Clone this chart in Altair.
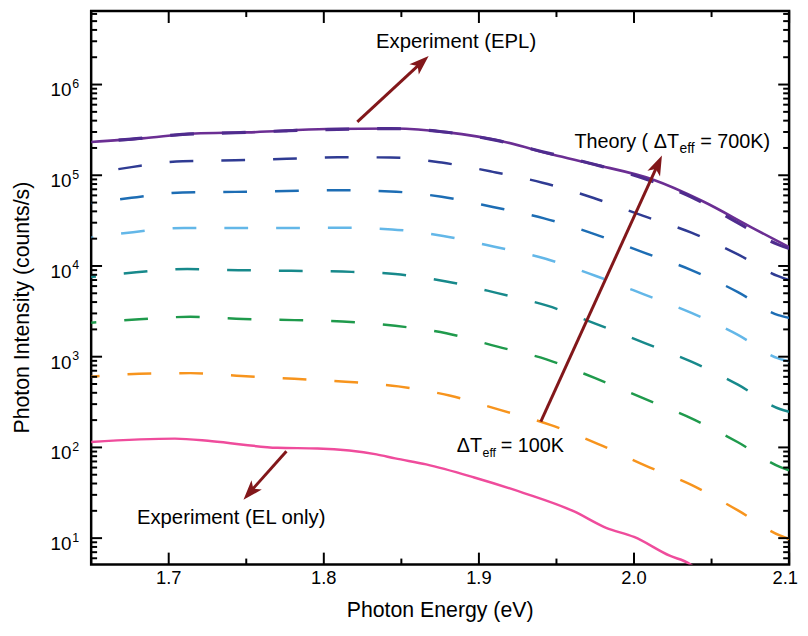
import altair as alt
import pandas as pd

W, H = 705, 559
FONT = "Liberation Sans, Arial, Helvetica, sans-serif"

# ---------------- axis tick values and labels ----------------
x_major = [1.7, 1.8, 1.9, 2.0, 2.1]
x_labels = ["1.7", "1.8", "1.9", "2.0", "2.1"]
x_minor = [1.65, 1.75, 1.85, 1.95, 2.05]
y_major = [1e1, 1e2, 1e3, 1e4, 1e5, 1e6]
y_exp = ["1", "2", "3", "4", "5", "6"]
y_minor = [6, 7, 8, 9,
           20, 30, 40, 50, 60, 70, 80, 90,
           200, 300, 400, 500, 600, 700, 800, 900,
           2e3, 3e3, 4e3, 5e3, 6e3, 7e3, 8e3, 9e3,
           2e4, 3e4, 4e4, 5e4, 6e4, 7e4, 8e4, 9e4,
           2e5, 3e5, 4e5, 5e5, 6e5, 7e5, 8e5, 9e5,
           2e6, 3e6, 4e6, 5e6, 6e6]

# ---------------- experiment (EPL), solid purple ----------------
e_epl = [1.650, 1.683, 1.717, 1.751, 1.802, 1.846, 1.880, 1.914, 1.948, 1.974, 2.012, 2.044, 2.076, 2.100]
i_epl = [2.33e5, 2.55e5, 2.89e5, 2.97e5, 3.23e5, 3.28e5, 2.97e5, 2.39e5, 1.68e5, 1.32e5, 8.97e4, 5.20e4, 2.65e4, 1.61e4]

# ---------------- experiment (EL only), solid pink ----------------
e_el = [1.650, 1.704, 1.728, 1.770, 1.796, 1.834, 1.846, 1.866, 1.897, 1.929, 1.961, 1.982, 2.000, 2.023, 2.036, 2.042]
i_el = [115, 125, 117, 99.1, 97.3, 83.8, 75.7, 65.0, 46.6, 31.4, 19.8, 13.0, 10.3, 6.40, 5.19, 4.3]

# ---------------- theory curves (dashed) ----------------
e_700 = [1.650, 1.676, 1.709, 1.743, 1.776, 1.809, 1.843, 1.876, 1.909, 1.941, 1.974, 2.006, 2.037, 2.067, 2.093, 2.100]
i_700 = [2.33e5, 2.50e5, 2.82e5, 2.94e5, 3.09e5, 3.21e5, 3.27e5, 3.02e5, 2.47e5, 1.82e5, 1.32e5, 9.27e4, 5.75e4, 2.99e4, 1.72e4, 1.56e4]
e_600 = [1.650, 1.676, 1.709, 1.743, 1.776, 1.809, 1.843, 1.876, 1.909, 1.941, 1.974, 2.006, 2.037, 2.067, 2.093, 2.100]
i_600 = [1.04e5, 1.23e5, 1.43e5, 1.46e5, 1.52e5, 1.58e5, 1.57e5, 1.38e5, 1.09e5, 8.28e4, 5.61e4, 3.56e4, 2.33e4, 1.34e4, 7.71e3, 6.97e3]
e_500 = [1.650, 1.676, 1.709, 1.743, 1.776, 1.810, 1.843, 1.876, 1.909, 1.942, 1.975, 2.006, 2.037, 2.067, 2.093, 2.100]
i_500 = [4.94e4, 5.64e4, 6.47e4, 6.56e4, 6.71e4, 6.85e4, 6.64e4, 5.79e4, 4.47e4, 3.35e4, 2.23e4, 1.41e4, 9.02e3, 5.15e3, 2.87e3, 2.68e3]
e_400 = [1.650, 1.677, 1.710, 1.744, 1.777, 1.811, 1.844, 1.877, 1.910, 1.943, 1.975, 2.006, 2.037, 2.067, 2.093, 2.100]
i_400 = [2.05e4, 2.36e4, 2.62e4, 2.62e4, 2.62e4, 2.64e4, 2.53e4, 2.14e4, 1.63e4, 1.20e4, 7.80e3, 4.90e3, 3.04e3, 1.74e3, 957, 887]
e_300 = [1.650, 1.679, 1.712, 1.745, 1.779, 1.812, 1.846, 1.879, 1.912, 1.944, 1.975, 2.007, 2.037, 2.067, 2.094, 2.100]
i_300 = [7.57e3, 8.51e3, 9.25e3, 8.99e3, 8.85e3, 8.67e3, 8.15e3, 6.76e3, 5.02e3, 3.65e3, 2.32e3, 1.41e3, 881, 492, 265, 247]
e_200 = [1.650, 1.681, 1.714, 1.748, 1.781, 1.812, 1.846, 1.879, 1.912, 1.944, 1.975, 2.007, 2.037, 2.067, 2.094, 2.100]
i_200 = [2.37e3, 2.59e3, 2.75e3, 2.61e3, 2.53e3, 2.44e3, 2.19e3, 1.81e3, 1.29e3, 929, 579, 342, 209, 114, 61.1, 56.0]
e_100 = [1.650, 1.681, 1.714, 1.747, 1.781, 1.814, 1.848, 1.881, 1.913, 1.946, 1.977, 2.007, 2.037, 2.067, 2.094, 2.100]
i_100 = [601, 649, 659, 612, 571, 530, 471, 373, 261, 177, 109, 63.5, 38.7, 20.2, 10.7, 9.77]

# (energies, intensities, colour, dash offset)
theory = [
    (e_100, i_100, "#f7941d", 15.5),
    (e_200, i_200, "#1f9a4c", 18.8),
    (e_300, i_300, "#17898b", 19.2),
    (e_400, i_400, "#63b7e8", 21.8),
    (e_500, i_500, "#1d6db4", 22.8),
    (e_600, i_600, "#2f3b93", 24.5),
]

# ---------------- arrows ----------------
arrow_name = ["EPL", "EPL", "Theory", "Theory", "EL", "EL"]
arrow_e = [1.8216, 1.862, 1.9399, 2.0148, 1.7759, 1.7532]
arrow_i = [3.88e5, 1.69e6, 193, 1.256e5, 90.9, 33.3]
head_e = [1.8676, 2.0180, 1.7482]
head_i = [2.07e6, 1.65e5, 26.5]
head_angle = [47.3, 24.5, 221.7]
ARROW = "#82171a"

XSC = alt.Scale(domain=[1.65, 2.1], nice=False, zero=False)
YSC = alt.Scale(type="log", domain=[5.12, 6.45e6], nice=False)


def X():
    return alt.X("energy:Q", scale=XSC, axis=None)


def Y():
    return alt.Y("intensity:Q", scale=YSC, axis=None)


layers = []

DASH = [24, 28.3]
for es, vs, col, off in theory:
    df = pd.DataFrame({"energy": es, "intensity": vs})
    layers.append(alt.Chart(df).mark_line(color=col, strokeWidth=2.5, strokeDash=DASH,
                                          strokeDashOffset=off, clip=True,
                                          interpolate="monotone").encode(x=X(), y=Y()))

# experiment EPL (solid) then 700 K theory dashed on top
layers.append(alt.Chart(pd.DataFrame({"energy": e_epl, "intensity": i_epl})).mark_line(
    color="#6b2e93", strokeWidth=2.6, clip=True, interpolate="monotone").encode(x=X(), y=Y()))
layers.append(alt.Chart(pd.DataFrame({"energy": e_700, "intensity": i_700})).mark_line(
    color="#4f2c8e", strokeWidth=3.2, strokeDash=DASH, strokeDashOffset=24.5, clip=True,
    interpolate="monotone").encode(x=X(), y=Y()))
# experiment EL only
layers.append(alt.Chart(pd.DataFrame({"energy": e_el, "intensity": i_el})).mark_line(
    color="#ef4c9c", strokeWidth=2.5, clip=True, interpolate="monotone").encode(x=X(), y=Y()))

# inward ticks on all four sides (positions from the scales, lengths in pixels)
xmaj = pd.DataFrame({"energy": x_major})
xmin = pd.DataFrame({"energy": x_minor})
ymaj = pd.DataFrame({"intensity": y_major})
ymin = pd.DataFrame({"intensity": y_minor})
TK = dict(color="black", strokeWidth=2)
for df, ln in ((xmaj, 12), (xmin, 6)):
    layers.append(alt.Chart(df).mark_rule(**TK).encode(x=X(), y=alt.value(H), y2=alt.value(H - ln)))
    layers.append(alt.Chart(df).mark_rule(**TK).encode(x=X(), y=alt.value(0), y2=alt.value(ln)))
for df, ln in ((ymaj, 11), (ymin, 6)):
    layers.append(alt.Chart(df).mark_rule(**TK).encode(y=Y(), x=alt.value(0), x2=alt.value(ln)))
    layers.append(alt.Chart(df).mark_rule(**TK).encode(y=Y(), x=alt.value(W), x2=alt.value(W - ln)))

# arrows
adf = pd.DataFrame({"name": arrow_name, "energy": arrow_e, "intensity": arrow_i})
layers.append(alt.Chart(adf).mark_line(color=ARROW, strokeWidth=3).encode(
    x=X(), y=Y(), detail="name:N"))
hdf = pd.DataFrame({"energy": head_e, "intensity": head_i, "angle": head_angle})
layers.append(alt.Chart(hdf).mark_point(shape="M0,0 L0.7,2 L0,1.5 L-0.7,2 Z", filled=True,
                                        size=400, color=ARROW, opacity=1).encode(
    x=X(), y=Y(), angle=alt.Angle("angle:Q", scale=None)))

# x tick labels (the last one kept inside the page edge)
xl = pd.DataFrame({"energy": x_major[:-1], "text": x_labels[:-1]})
layers.append(alt.Chart(xl).mark_text(align="center", baseline="alphabetic", font=FONT,
                                      fontSize=18.5, color="black").encode(
    x=X(), y=alt.value(H + 20), text="text:N"))
xl_last = pd.DataFrame({"energy": x_major[-1:], "text": x_labels[-1:]})
layers.append(alt.Chart(xl_last).mark_text(align="right", baseline="alphabetic", font=FONT,
                                           fontSize=18.5, dx=9, color="black").encode(
    x=X(), y=alt.value(H + 20), text="text:N"))

# y tick labels: "10" with a raised exponent
ydf = pd.DataFrame({"intensity": y_major, "base": ["10"] * len(y_major), "exp": y_exp})
layers.append(alt.Chart(ydf).mark_text(align="right", baseline="alphabetic", font=FONT,
                                       fontSize=19, dy=12, color="black").encode(
    x=alt.value(-20), y=Y(), text="base:N"))
layers.append(alt.Chart(ydf).mark_text(align="left", baseline="alphabetic", font=FONT,
                                       fontSize=12.5, dy=3.5, color="black").encode(
    x=alt.value(-19), y=Y(), text="exp:N"))

# axis titles
xt = pd.DataFrame({"text": ["Photon Energy (eV)"]})
layers.append(alt.Chart(xt).mark_text(align="center", baseline="alphabetic", font=FONT,
                                      fontSize=21.5, color="black").encode(
    x=alt.value(W / 2), y=alt.value(H + 53), text="text:N"))
yt = pd.DataFrame({"text": ["Photon Intensity (counts/s)"]})
layers.append(alt.Chart(yt).mark_text(align="center", baseline="bottom", angle=270, font=FONT,
                                      fontSize=21.5, color="black").encode(
    x=alt.value(-58), y=alt.value(299.5), text="text:N"))

# annotations
cdf = pd.DataFrame({"energy": [1.8853, 1.7403], "intensity": [2.55e6, 14.4],
                    "text": ["Experiment (EPL)", "Experiment (EL only)"]})
layers.append(alt.Chart(cdf).mark_text(align="center", baseline="alphabetic", font=FONT,
                                       fontSize=20.5, color="black").encode(
    x=X(), y=Y(), text="text:N"))

pre = pd.DataFrame({"energy": [2.0290, 1.9020], "intensity": [1.983e5, 88.0],
                    "text": ["Theory ( \u0394T", "\u0394T"]})
layers.append(alt.Chart(pre).mark_text(align="right", baseline="alphabetic", font=FONT,
                                       fontSize=20, color="black").encode(
    x=X(), y=Y(), text="text:N"))
sub1 = pd.DataFrame({"energy": [2.0290], "intensity": [1.983e5], "text": ["eff"]})
layers.append(alt.Chart(sub1).mark_text(align="left", baseline="alphabetic", font=FONT,
                                        fontSize=14, dx=0.5, dy=5, color="black").encode(
    x=X(), y=Y(), text="text:N"))
sub2 = pd.DataFrame({"energy": [1.9020], "intensity": [88.0], "text": ["eff"]})
layers.append(alt.Chart(sub2).mark_text(align="left", baseline="alphabetic", font=FONT,
                                        fontSize=12.5, dx=0.5, dy=5, color="black").encode(
    x=X(), y=Y(), text="text:N"))
post1 = pd.DataFrame({"energy": [2.0290], "intensity": [1.983e5], "text": ["= 700K)"]})
layers.append(alt.Chart(post1).mark_text(align="left", baseline="alphabetic", font=FONT,
                                         fontSize=20, dx=21.4, color="black").encode(
    x=X(), y=Y(), text="text:N"))
post2 = pd.DataFrame({"energy": [1.9020], "intensity": [88.0], "text": ["= 100K"]})
layers.append(alt.Chart(post2).mark_text(align="left", baseline="alphabetic", font=FONT,
                                         fontSize=20, dx=19, color="black").encode(
    x=X(), y=Y(), text="text:N"))

chart = alt.layer(*layers).properties(
    width=W, height=H, background="white",
    autosize=alt.AutoSizeParams(type="none"),
    padding={"left": 84, "top": 0, "right": 11, "bottom": 61},
).configure_view(stroke="black", strokeWidth=2.5)

chart.save("out.html", embed_options={"renderer": "svg", "actions": False})
